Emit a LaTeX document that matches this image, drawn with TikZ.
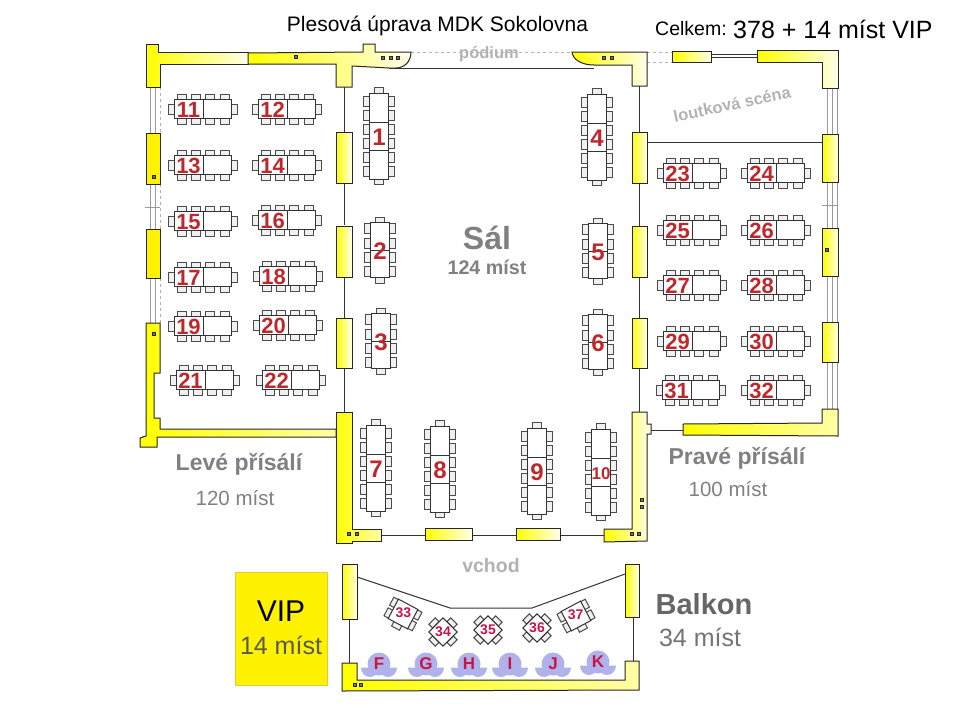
\documentclass[tikz,border=0pt]{standalone}
\usepackage{fontspec}
\usepackage{tikz}
\setmainfont{Liberation Sans}

\definecolor{seatred}{RGB}{190,40,45}
\definecolor{balkred}{RGB}{200,20,70}
\definecolor{blobblue}{RGB}{175,178,235}
\definecolor{boxedge}{RGB}{230,200,60}

\tikzset{
  wallfull/.style={draw=black!85,line width=1pt,fill=yellow},
  wallfade/.style={draw=black!85,line width=1pt,left color=yellow,right color=yellow!8},
  wallstrong/.style={draw=black!85,line width=1pt,left color=yellow,right color=yellow!35},
  partition/.style={draw=black!80,line width=1pt},
  window/.style={draw=black!40,line width=0.8pt},
  lightdash/.style={draw=black!30,line width=0.8pt,dashed},
  plug/.style={draw=black!85,fill=black!55,line width=1pt},
  chair/.style={draw=black!70,fill=black!6,line width=1pt},
  desk/.style={draw=black!80,fill=white,line width=1pt},
  seatno/.style={text=seatred,font=\bfseries\fontsize{22}{22}\selectfont,inner sep=0pt},
  bigno/.style={text=seatred,font=\bfseries\fontsize{24}{24}\selectfont,inner sep=0pt},
  balkno/.style={text=balkred,font=\bfseries\fontsize{14}{14}\selectfont,inner sep=0pt},
  blobno/.style={text=balkred,font=\bfseries\fontsize{17}{17}\selectfont,inner sep=0pt},
  caption/.style={inner sep=0pt,text=black!50},
}

% table across, four chairs on each long side and one at each end
\newcommand{\widedesk}[3]{
  \begin{scope}[shift={(#1,#2)}]
    \foreach \cx in {-21.5,-7,7,21.5} {
      \draw[chair] (\cx-4.5,-15) rectangle (\cx+4.5,-9);
      \draw[chair] (\cx-4.5,9) rectangle (\cx+4.5,15);
    }
    \draw[chair] (-34.5,-5) rectangle (-28.5,5);
    \draw[chair] (28.5,-5) rectangle (34.5,5);
    \draw[desk] (-28.5,-9.5) rectangle (28.5,9.5);
    \draw[desk] (0,-9.5) -- (0,9.5);
    \node[seatno] (desk#3) at (-14.5,1) {#3};
  \end{scope}
}

% table upright: half height, chair offsets, dividers, name, label
\newcommand{\uprightdesk}[7]{
  \begin{scope}[shift={(#1,#2)}]
    \foreach \cy in {#4} {
      \draw[chair] (-15.5,\cy-5) rectangle (-9.5,\cy+5);
      \draw[chair] (9.5,\cy-5) rectangle (15.5,\cy+5);
    }
    \draw[chair] (-4.5,-#3-5.5) rectangle (4.5,-#3);
    \draw[chair] (-4.5,#3) rectangle (4.5,#3+5.5);
    \draw[desk] (-9.5,-#3) rectangle (9.5,#3);
    \foreach \cy in {#5} \draw[desk] (-9.5,\cy) -- (9.5,\cy);
    \node[bigno] (desk#6) at (0,1.5) {#7};
  \end{scope}
}
\newcommand{\longdesk}[4]{\uprightdesk{#1}{#2}{43}{-35,-21,-7,7,21,35}{-14,14}{#3}{#4}}
\newcommand{\shortdesk}[4]{\uprightdesk{#1}{#2}{27.5}{-21.5,-7,7,21.5}{0}{#3}{#4}}

% small balcony tables
\newcommand{\fourdesk}[3]{
  \begin{scope}[shift={(#1,#2)},rotate=45]
    \foreach \ca in {0,90,180,270}
      \draw[chair,rotate=\ca] (-4.5,10) rectangle (4.5,15.5);
    \draw[desk] (-10,-10) rectangle (10,10);
    \node[balkno] (desk#3) at (0,0) {#3};
  \end{scope}
}
\newcommand{\fivedesk}[4]{
  \begin{scope}[shift={(#1,#2)},rotate=#3]
    \foreach \cy in {-6,6} {
      \draw[chair] (-16,\cy-4.5) rectangle (-10.5,\cy+4.5);
      \draw[chair] (10.5,\cy-4.5) rectangle (16,\cy+4.5);
    }
    \draw[chair] (-4.5,10.5) rectangle (4.5,16);
    \draw[desk] (-11,-11) rectangle (11,11);
    \node[balkno] (desk#4) at (0,-1) {#4};
  \end{scope}
}
% blue seat of the balcony front row
\newcommand{\frontseat}[3]{
  \fill[blobblue] (#1,#2) circle (11.5);
  \fill[blobblue] (#1-18,#2+3.5) arc[start angle=180,end angle=0,x radius=9,y radius=9.5] -- cycle;
  \fill[blobblue] (#1,#2+3.5) arc[start angle=180,end angle=0,x radius=9,y radius=9.5] -- cycle;
  \fill[blobblue] (#1-9,#2) rectangle (#1+9,#2+6);
  \node[blobno] (seat#3) at (#1,#2) {#3};
}

\begin{document}
\begin{tikzpicture}[x=1pt,y=-1pt]
  \useasboundingbox (0,0) rectangle (960,720);

  % window strips, left and right
  \foreach \wa/\wb in {87/133,184/229,278/323} {
    \draw[window] (150,\wa) -- (150,\wb);
    \draw[window] (155,\wa) -- (155,\wb);
    \draw[lightdash] (160,\wa) -- (160,\wb);
  }
  \draw[window] (145,207) -- (160,207);
  \foreach \wa/\wb in {88/134,182/228,276/322,362/409} {
    \draw[window] (827,\wa) -- (827,\wb);
    \draw[window] (832,\wa) -- (832,\wb);
    \draw[window] (837,\wa) -- (837,\wb);
  }
  \draw[window] (822,205) -- (838,205);

  % thin walls of the hall
  \foreach \wa/\wb in {87/132,183/225,277/318,368/412} \draw[partition] (344,\wa) -- (344,\wb);
  \foreach \wa/\wb in {86/132,182/227,277/318,368/412} \draw[partition] (639,\wa) -- (639,\wb);
  \draw[partition] (647,142) -- (822,142);
  \draw[partition] (381,535) -- (604,535);
  \draw[partition] (651,430) -- (683,430);
  \draw[partition] (711,54) -- (757,54);
  \draw[partition] (711,57) -- (757,57);
  \draw[partition] (389,68) -- (594,68);
  \draw[lightdash] (411,52) -- (572,52);
  \draw[lightdash] (647,52) -- (672,52);
  \draw[lightdash] (647,62) -- (672,62);

  % outer walls, top
  \draw[wallfade] (146,44) -- (158,44) -- (158,52) -- (248,52) -- (248,64) -- (160,64) -- (160,87) -- (146,87) -- cycle;
  \draw[wallfade] (248,53) -- (363,52) -- (363,44) -- (375,44) -- (375,52) -- (411,52)
    .. controls (411,62) and (404,68) .. (396,68) -- (389,68) -- (352,66) -- (352,87) -- (336,87) -- (336,64) -- (248,64) -- cycle;
  \draw[wallfade] (572,52) -- (647,52) -- (647,86) -- (632,86) -- (632,65) -- (594,65)
    .. controls (582,65) and (573,60) .. (572,52) -- cycle;
  \draw[wallfade] (672,51) rectangle (711,62);
  \draw[wallfade] (757,50) -- (838,50) -- (838,88) -- (822,88) -- (822,62) -- (757,62) -- cycle;

  % outer walls, sides
  \draw[wallfull] (146,133) rectangle (160,184);
  \draw[wallfull] (146,229) rectangle (160,278);
  \draw[wallfade] (822,134) rectangle (838,182);
  \draw[wallfade] (822,228) rectangle (838,276);
  \draw[wallfade] (822,322) rectangle (838,362);
  \draw[wallstrong] (683,424) -- (822,423) -- (822,409) -- (838,409) -- (838,436) -- (683,435) -- cycle;
  \draw[wallstrong] (146,323) -- (160,323) -- (160,373) -- (154,373) -- (154,418) -- (160,418) -- (160,429) -- (336,429)
    -- (336,437) -- (157,437) -- (157,447) -- (140,447) -- (140,438) -- (146,436) -- cycle;

  % piers of the hall
  \foreach \wa/\wb in {132/183,226/277,318/368} {
    \draw[wallfade] (336,\wa) rectangle (352,\wb);
    \draw[wallfade] (632,\wa) rectangle (647,\wb);
  }

  % bottom of the hall
  \draw[wallstrong] (336,412) -- (352,412) -- (352,529) -- (381,529) -- (381,541) -- (352,541) -- (352,543) -- (336,543) -- cycle;
  \draw[wallfade] (425,528) rectangle (472,540);
  \draw[wallfade] (516,528) rectangle (560,540);
  \draw[wallfade] (632,412) -- (647,412) -- (647,424) -- (651,424) -- (651,434) -- (647,434) -- (647,541) -- (604,542) -- (604,529) -- (632,529) -- cycle;

  % balcony
  \draw[partition] (357,577) -- (450,608) -- (532,608) -- (625,574);
  \draw[partition] (349,619) -- (349,663);
  \draw[partition] (633,617) -- (633,661);
  \draw[wallfade] (342,564) rectangle (357,619);
  \draw[wallfade] (625,564) rectangle (639,617);
  \draw[wallstrong] (342,663) -- (357,663) -- (357,680) -- (625,680) -- (625,661) -- (639,661) -- (639,690) -- (342,691) -- cycle;

  % sockets
  \foreach \px/\py in {296/57,383/58,391/58,398/58,604/58,612/58,154/177,154/334,827/250,349/534,357/534,642/500,642/507,632/534,639/534,355/685,361/685}
    \draw[plug] (\px-1.6,\py-1.6) rectangle (\px+1.6,\py+1.6);

  % tables of the left and right side hall
  \widedesk{203}{109}{11}
  \widedesk{287}{109}{12}
  \widedesk{203}{165}{13}
  \widedesk{287}{165}{14}
  \widedesk{203}{221}{15}
  \widedesk{287}{220}{16}
  \widedesk{203}{277}{17}
  \widedesk{288}{276}{18}
  \widedesk{203}{326}{19}
  \widedesk{288}{325}{20}
  \widedesk{205}{380}{21}
  \widedesk{291}{380}{22}
  \widedesk{692}{173}{23}
  \widedesk{776}{173}{24}
  \widedesk{692}{230}{25}
  \widedesk{776}{230}{26}
  \widedesk{692}{285}{27}
  \widedesk{776}{285}{28}
  \widedesk{692}{341}{29}
  \widedesk{776}{341}{30}
  \widedesk{691}{390}{31}
  \widedesk{776}{390}{32}

  % tables of the hall
  \longdesk{379}{136}{1}{1}
  \shortdesk{380}{250}{2}{2}
  \shortdesk{381}{341}{3}{3}
  \longdesk{597}{137}{4}{4}
  \shortdesk{598}{251}{5}{5}
  \shortdesk{598}{342}{6}{6}
  \longdesk{376}{468}{7}{7}
  \longdesk{440}{469}{8}{8}
  \longdesk{537}{471}{9}{9}
  \longdesk{601}{472}{10}{\fontsize{17}{17}\selectfont 10}

  % balcony tables
  \fivedesk{403}{614}{-28}{33}
  \fourdesk{443}{632}{34}
  \fourdesk{488}{630}{35}
  \fourdesk{537}{628}{36}
  \fivedesk{576}{616}{28}{37}
  \frontseat{379}{664}{F}
  \frontseat{426}{664}{G}
  \frontseat{469}{664}{H}
  \frontseat{510}{664}{I}
  \frontseat{553}{664}{J}
  \frontseat{598}{662}{K}

  % VIP box
  \node[draw=boxedge,fill=yellow,line width=0.8pt,minimum width=92pt,minimum height=113pt,inner sep=0pt] (vipbox) at (281,628.5) {};
  \node[inner sep=0pt,font=\fontsize{30}{30}\selectfont] (viptitle) at (281,611) {VIP};
  \node[inner sep=0pt,text=black!65,font=\fontsize{25}{25}\selectfont] (vipseats) at (281,645) {14 míst};

  % texts
  \node[inner sep=0pt,font=\fontsize{21}{21}\selectfont] (title) at (437.5,26) {Plesová úprava MDK Sokolovna};
  \node[inner sep=0pt,font=\fontsize{19.5}{19.5}\selectfont,anchor=west] (total) at (655,29) {Celkem:};
  \node[inner sep=0pt,font=\fontsize{25}{25}\selectfont,anchor=west] (totalseats) at (733,29) {378 + 14 míst VIP};
  \node[caption,text=black!30,font=\bfseries\fontsize{16.5}{16.5}\selectfont] (podium) at (489,54) {pódium};
  \node[caption,text=black!30,rotate=12,font=\bfseries\fontsize{16.5}{16.5}\selectfont] (scena) at (732,104) {loutková scéna};
  \node[caption,font=\bfseries\fontsize{32}{32}\selectfont] (sal) at (487,238) {Sál};
  \node[caption,font=\bfseries\fontsize{19.7}{19.7}\selectfont] (salseats) at (487,267) {124 míst};
  \node[caption,font=\bfseries\fontsize{23}{23}\selectfont] (leve) at (239,464) {Levé přísálí};
  \node[caption,font=\fontsize{20.5}{20.5}\selectfont] (leveseats) at (235,498) {120 míst};
  \node[caption,font=\bfseries\fontsize{23}{23}\selectfont] (prave) at (737,458) {Pravé přísálí};
  \node[caption,font=\fontsize{20.5}{20.5}\selectfont] (praveseats) at (728,489) {100 míst};
  \node[caption,text=black!30,font=\bfseries\fontsize{19.5}{19.5}\selectfont] (vchod) at (491,566) {vchod};
  \node[caption,text=black!60,font=\bfseries\fontsize{29}{29}\selectfont] (balkon) at (704,604) {Balkon};
  \node[caption,text=black!55,font=\fontsize{25}{25}\selectfont] (balkonseats) at (700,637) {34 míst};
\end{tikzpicture}
\end{document}
